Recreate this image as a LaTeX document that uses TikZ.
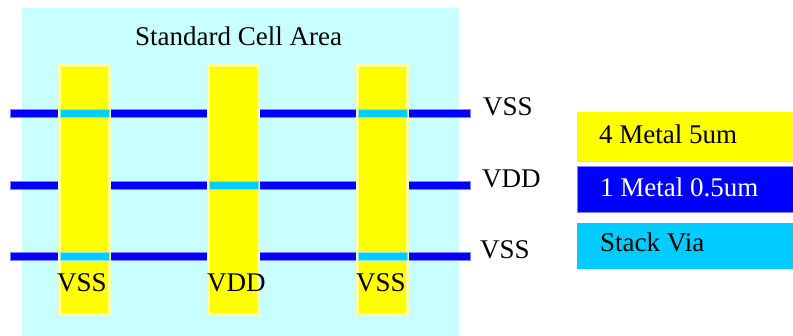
\documentclass[tikz,border=0pt]{standalone}
\usepackage{fontspec}
\setmainfont{Liberation Serif}
\definecolor{cellbg}{RGB}{200,255,255}
\definecolor{metalfour}{RGB}{255,255,0}
\definecolor{metalfourrim}{RGB}{255,255,160}
\definecolor{metalone}{RGB}{0,0,255}
\definecolor{metalonerim}{RGB}{130,130,255}
\definecolor{stackvia}{RGB}{0,204,255}
\tikzset{
  lbl/.style={inner sep=0pt, anchor=base west, font=\fontsize{27}{30}\selectfont},
  rail/.style={fill=metalone, draw=metalonerim, line width=0.6pt},
  viabox/.style={fill=stackvia, draw=stackvia!50!white, line width=0.6pt},
}
\begin{document}
\begin{tikzpicture}[x=1pt,y=-1pt]
\useasboundingbox (0,0) rectangle (793,336);
% cell area
\fill[cellbg] (22,8) rectangle (459,336);
\node[lbl] (title) at (135,46) {Standard Cell Area};
% metal1 rails
\foreach \y/\n in {113/a,185/b,256/c}{
  \draw[rail] (10,\y-4) rectangle (470,\y+4);
}
% metal4 columns
\foreach \x/\n in {58/c1,207/c2,356/c3}{
  \fill[metalfourrim] (\x,64) rectangle (\x+53,316);
  \fill[metalfour] (\x+3,67) rectangle (\x+50,313);
}
% vias
\foreach \x/\y in {58/113,356/113,207/185,58/256,356/256}{
  \draw[viabox] (\x+2,\y-4) rectangle (\x+51,\y+4);
}
% rail labels
\node[lbl] (r1) at (483,116) {VSS};
\node[lbl] (r2) at (482,188) {VDD};
\node[lbl] (r3) at (480,259) {VSS};
% column labels
\node[lbl] (k1) at (57,292) {VSS};
\node[lbl] (k2) at (207,292) {VDD};
\node[lbl] (k3) at (356,292) {VSS};
% legend
\fill[metalfour] (577,112) rectangle (793,162);
\draw[rail] (577,166) rectangle (793,212);
\fill[stackvia] (577,223) rectangle (793,269);
\node[lbl] (l1) at (599,144) {4 Metal 5um};
\node[lbl, text=white] (l2) at (600,197) {1 Metal 0.5um};
\node[lbl] (l3) at (600,252) {Stack Via};
\end{tikzpicture}
\end{document}
